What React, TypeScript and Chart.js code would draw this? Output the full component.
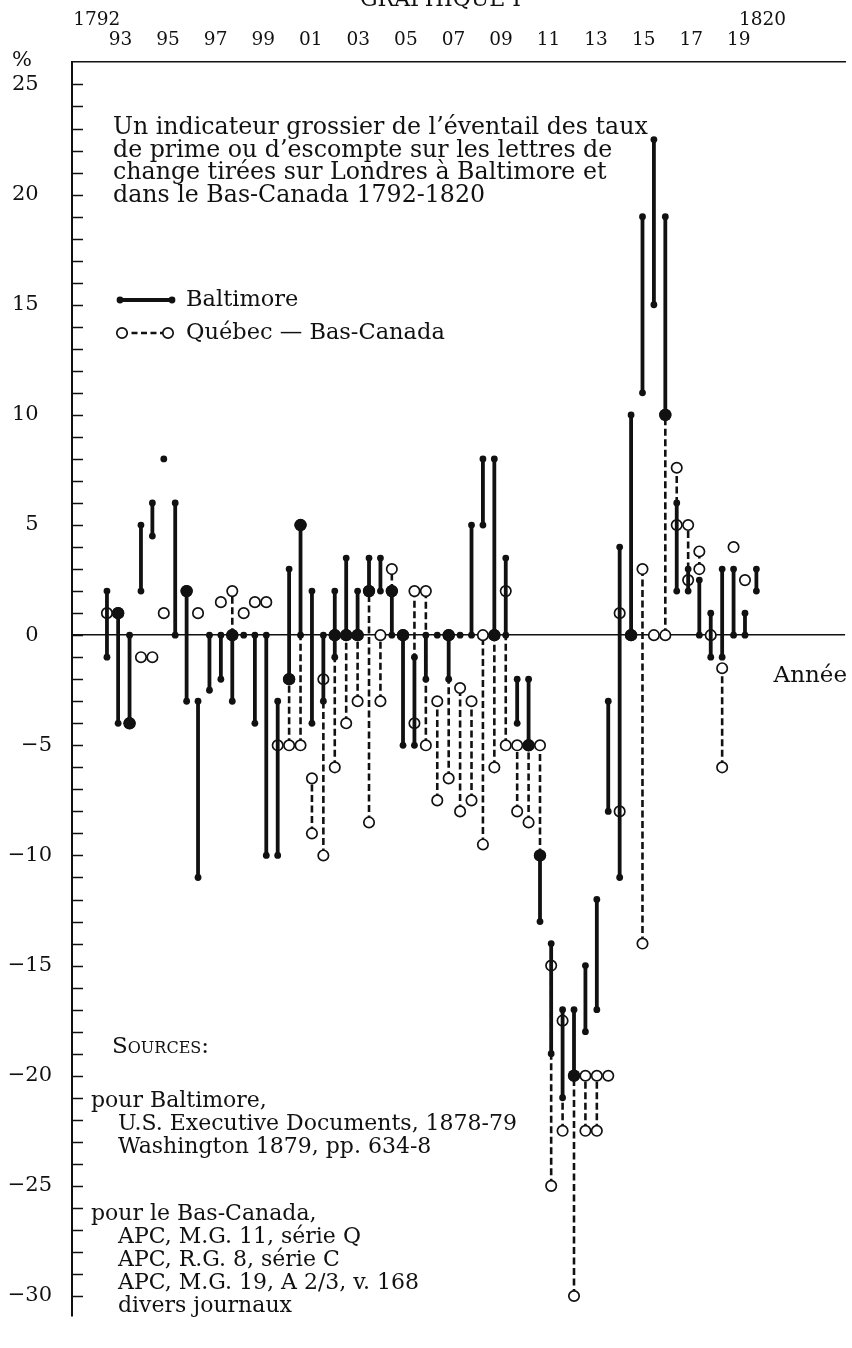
import React, { useEffect, useRef } from 'react';
import { Chart, registerables } from 'chart.js';

Chart.register(...registerables);

const OBS_YEARS = [
  1792.43, 1792.90, 1793.38, 1793.86, 1794.34, 1794.82, 1795.30, 1795.78, 1796.26, 1796.74,
  1797.22, 1797.70, 1798.18, 1798.65, 1799.13, 1799.61, 1800.09, 1800.57, 1801.05, 1801.53,
  1802.01, 1802.49, 1802.97, 1803.45, 1803.93, 1804.41, 1804.88, 1805.36, 1805.84, 1806.32,
  1806.80, 1807.28, 1807.76, 1808.24, 1808.72, 1809.20, 1809.68, 1810.16, 1810.64, 1811.11,
  1811.59, 1812.07, 1812.55, 1813.03, 1813.51, 1813.99, 1814.47, 1814.95, 1815.43, 1815.91,
  1816.39, 1816.87, 1817.34, 1817.82, 1818.30, 1818.78, 1819.26, 1819.74,
];

// Baltimore: low / high of the range (%)
const BALT_LOW = [
  -1, -4, -4, 2, 4.5, 8, 0, -3, -11, -2.5,
  -2, -3, 0, -4, -10, -10, -2, 0, -4, -3,
  -1, 0, 0, 2, 2, 0, -5, -5, -2, 0,
  -2, 0, 0, 5, 0, 0, -4, -5, -13, -19,
  -21, -20, -18, -17, -8, -11, 0, 11, 15, 10,
  2, 2, 0, -1, -1, 0, 0, 2,
];
const BALT_HIGH = [
  2, 1, 0, 5, 6, 8, 6, 2, -3, 0,
  0, 0, 0, 0, 0, -3, 3, 5, 2, 0,
  2, 3.5, 2, 3.5, 3.5, 2, 0, -1, 0, 0,
  0, 0, 5, 8, 8, 3.5, -2, -2, -10, -14,
  -17, -17, -15, -12, -3, 4, 10, 19, 22.5, 19,
  6, 3, 2.5, 1, 3, 3, 1, 3,
];

// Québec — Bas-Canada: low / high of the range (%)
const QC_LOW = [
  1, 1, -4, -1, -1, 1, null, 2, 1, null,
  1.5, 0, 1, 1.5, 1.5, -5, -5, -5, -9, -10,
  -6, -4, -3, -8.5, -3, 2, 0, -4, -5, -7.5,
  -6.5, -8, -7.5, -9.5, -6, -5, -8, -8.5, -10, -25,
  -22.5, -30, -22.5, -22.5, -20, -8, 0, -14, 0, 0,
  5, 2.5, 3, 0, -6, 4, 2.5, null,
];
const QC_HIGH = [
  1, 1, -4, -1, -1, 1, null, 2, 1, null,
  1.5, 2, 1, 1.5, 1.5, -5, -2, 5, -6.5, -2,
  0, 0, 0, 2, 0, 3, 0, 2, 2, -3,
  0, -2.4, -3, 0, 0, 2, -5, -5, -5, -15,
  -17.5, -20, -20, -20, -20, 1, 0, 3, 0, 10,
  7.6, 5, 3.8, 0, -1.5, 4, 2.5, null,
];

// Values where both sources coincide (large filled dots)
const BOTH = [
  null, 1, -4, null, null, null, null, 2, null, null,
  null, 0, null, null, null, null, -2, 5, null, null,
  0, 0, 0, 2, null, 2, 0, null, null, null,
  0, null, null, null, 0, null, null, -5, -10, null,
  null, -20, null, null, null, null, 0, null, null, 10,
  null, null, null, null, null, null, null, null,
];

const TOP_TICK_YEARS = [1793, 1795, 1797, 1799, 1801, 1803, 1805, 1807, 1809, 1811, 1813, 1815, 1817, 1819];
const TOP_TICK_LABELS = ['93', '95', '97', '99', '01', '03', '05', '07', '09', '11', '13', '15', '17', '19'];
const END_TICK_YEARS = [1792, 1820];
const END_TICK_LABELS = ['1792', '1820'];
const Y_TICK_VALUES = [-30, -25, -20, -15, -10, -5, 0, 5, 10, 15, 20, 25];
const Y_TICK_LABELS = ['\u221230', '\u221225', '\u221220', '\u221215', '\u221210', '\u22125', '0\u2007', '5\u2007', '10\u2007', '15\u2007', '20\u2007', '25\u2007'];
const Y_MINOR_FROM = -30;
const Y_MINOR_TO = 25;

const X_MIN = 1790.96;
const X_MAX = 1823.47;
const Y_MIN = -30.88;
const Y_MAX = 26.02;

const FONT = "'DejaVu Serif', 'Liberation Serif', serif";
const INK = '#111';

function buildRanges(lo: (number | null)[], hi: (number | null)[]) {
  const pts: { x: number; y: number | null }[] = [];
  OBS_YEARS.forEach((x, i) => {
    const a = lo[i];
    const b = hi[i];
    if (a == null || b == null) return;
    pts.push({ x, y: a });
    if (b !== a) pts.push({ x, y: b });
    pts.push({ x, y: null });
  });
  return pts;
}

function buildPoints(vals: (number | null)[]) {
  const pts: { x: number; y: number }[] = [];
  OBS_YEARS.forEach((x, i) => {
    const v = vals[i];
    if (v != null) pts.push({ x, y: v });
  });
  return pts;
}

const decorPlugin = {
  id: 'decor',
  beforeDatasetsDraw(chart: any) {
    const { ctx, chartArea, scales } = chart;
    ctx.save();
    ctx.strokeStyle = INK;
    ctx.lineWidth = 1.6;
    ctx.beginPath();
    for (let v = Y_MINOR_FROM; v <= Y_MINOR_TO; v++) {
      const y = Math.round(scales.y.getPixelForValue(v)) + 0.5;
      ctx.moveTo(chartArea.left, y);
      ctx.lineTo(chartArea.left + 11, y);
    }
    ctx.stroke();
    ctx.restore();
  },
  afterDraw(chart: any) {
    const { ctx } = chart;
    ctx.save();
    // Baltimore legend sample
    ctx.strokeStyle = INK;
    ctx.fillStyle = INK;
    ctx.lineWidth = 3.8;
    ctx.beginPath();
    ctx.moveTo(120, 300);
    ctx.lineTo(172, 300);
    ctx.stroke();
    [120, 172].forEach((x) => {
      ctx.beginPath();
      ctx.arc(x, 300, 3.4, 0, Math.PI * 2);
      ctx.fill();
    });
    // Québec legend sample
    ctx.lineWidth = 2.4;
    ctx.setLineDash([6, 3.5]);
    ctx.beginPath();
    ctx.moveTo(122, 333);
    ctx.lineTo(168, 333);
    ctx.stroke();
    ctx.setLineDash([]);
    ctx.lineWidth = 1.7;
    [122, 168].forEach((x) => {
      ctx.beginPath();
      ctx.arc(x, 333, 5.2, 0, Math.PI * 2);
      ctx.fillStyle = '#fff';
      ctx.fill();
      ctx.stroke();
    });
    ctx.restore();
  },
};

function Txt(props: { x?: number; right?: number; base: number; size?: number; children: any; style?: any }) {
  const size = props.size ?? 22;
  const st: any = {
    position: 'absolute',
    top: props.base - 0.846 * size,
    fontSize: size,
    lineHeight: `${size}px`,
    whiteSpace: 'nowrap',
    ...props.style,
  };
  if (props.right != null) st.right = 852 - props.right;
  else st.left = props.x;
  return <div style={st}>{props.children}</div>;
}

export default function App() {
  const canvasRef = useRef<HTMLCanvasElement | null>(null);

  useEffect(() => {
    document.body.style.margin = '0';
    document.body.style.overflow = 'hidden';
    const canvas = canvasRef.current;
    if (!canvas) return;
    const chart = new Chart(canvas, {
      type: 'line',
      data: {
        datasets: [
          {
            label: 'Québec — Bas-Canada',
            data: buildRanges(QC_LOW, QC_HIGH),
            borderColor: INK,
            borderWidth: 2.6,
            borderDash: [7, 3.5],
            pointRadius: 5.2,
            pointBackgroundColor: '#fff',
            pointBorderColor: INK,
            pointBorderWidth: 1.7,
            spanGaps: false,
            fill: false,
            tension: 0,
            order: 3,
          } as any,
          {
            label: 'Baltimore',
            data: buildRanges(BALT_LOW, BALT_HIGH),
            borderColor: INK,
            borderWidth: 3.8,
            pointRadius: 3.4,
            pointBackgroundColor: INK,
            pointBorderWidth: 0,
            spanGaps: false,
            fill: false,
            tension: 0,
            order: 2,
          } as any,
          {
            label: 'Coïncidence',
            data: buildPoints(BOTH),
            showLine: false,
            pointRadius: 6.2,
            pointBackgroundColor: INK,
            pointBorderWidth: 0,
            order: 1,
          } as any,
        ],
      },
      options: {
        responsive: false,
        maintainAspectRatio: false,
        animation: false,
        events: [],
        layout: { padding: 0 },
        plugins: {
          legend: { display: false },
          tooltip: { enabled: false },
          title: { display: false },
        },
        scales: {
          x: {
            type: 'linear',
            position: 'top',
            min: X_MIN,
            max: X_MAX,
            weight: 0,
            afterFit: (s: any) => {
              s.height = 32;
            },
            afterBuildTicks: (s: any) => {
              s.ticks = TOP_TICK_YEARS.map((v) => ({ value: v }));
            },
            ticks: {
              autoSkip: false,
              maxRotation: 0,
              minRotation: 0,
              padding: 12.5,
              color: INK,
              font: { family: FONT, size: 18.5, lineHeight: 1 },
              callback: (v: any) => {
                const i = TOP_TICK_YEARS.indexOf(Number(v));
                return i >= 0 ? TOP_TICK_LABELS[i] : '';
              },
            },
            grid: { display: false, drawTicks: false },
            border: { display: true, color: INK, width: 1.6 },
          },
          x2: {
            type: 'linear',
            axis: 'x',
            position: 'top',
            min: X_MIN,
            max: X_MAX,
            weight: 10,
            afterFit: (s: any) => {
              s.height = 30;
            },
            afterBuildTicks: (s: any) => {
              s.ticks = END_TICK_YEARS.map((v) => ({ value: v }));
            },
            ticks: {
              autoSkip: false,
              maxRotation: 0,
              minRotation: 0,
              padding: 1,
              color: INK,
              font: { family: FONT, size: 18.5, lineHeight: 1 },
              callback: (v: any) => {
                const i = END_TICK_YEARS.indexOf(Number(v));
                return i >= 0 ? END_TICK_LABELS[i] : '';
              },
            },
            grid: { display: false, drawTicks: false },
            border: { display: false },
          },
          y: {
            type: 'linear',
            position: 'left',
            min: Y_MIN,
            max: Y_MAX,
            afterFit: (s: any) => {
              s.width = 72;
            },
            afterBuildTicks: (s: any) => {
              s.ticks = Y_TICK_VALUES.map((v) => ({ value: v }));
            },
            ticks: {
              autoSkip: false,
              padding: 20,
              color: INK,
              font: { family: FONT, size: 21 },
              callback: (v: any) => {
                const i = Y_TICK_VALUES.indexOf(Number(v));
                return i >= 0 ? Y_TICK_LABELS[i] : '';
              },
            },
            grid: {
              drawTicks: false,
              lineWidth: 1.5,
              color: (c: any) => (c.tick && c.tick.value === 0 ? INK : 'rgba(0,0,0,0)'),
            },
            border: { display: true, color: INK, width: 2 },
          },
        },
      } as any,
      plugins: [decorPlugin],
    });
    return () => chart.destroy();
  }, []);

  return (
    <div style={{ position: 'relative', width: 852, height: 1348, overflow: 'hidden', fontFamily: FONT, color: INK, background: '#fff' }}>
      <canvas ref={canvasRef} width={852} height={1348} style={{ display: 'block', position: 'absolute', left: 0, top: 0 }} />
      <Txt x={360} base={7} size={22}>GRAPHIQUE I</Txt>
      <Txt x={12} base={67} size={21}>%</Txt>

      <Txt x={113} base={135} size={23.7}>Un indicateur grossier de l’éventail des taux</Txt>
      <Txt x={113} base={157.7} size={23.7}>de prime ou d’escompte sur les lettres de</Txt>
      <Txt x={113} base={180.4} size={23.7}>change tirées sur Londres à Baltimore et</Txt>
      <Txt x={113} base={203.1} size={23.7}>dans le Bas-Canada 1792-1820</Txt>

      <Txt x={186} base={306} size={22.5}>Baltimore</Txt>
      <Txt x={186} base={339} size={22.5}>Québec — Bas-Canada</Txt>

      <Txt right={847} base={682} size={23}>Année</Txt>

      <Txt x={112} base={1053} size={23} style={{ fontVariant: 'small-caps' }}>Sources:</Txt>
      <Txt x={91} base={1108} size={22}>pour Baltimore,</Txt>
      <Txt x={118} base={1131} size={22}>U.S. Executive Documents, 1878-79</Txt>
      <Txt x={118} base={1154} size={22}>Washington 1879, pp. 634-8</Txt>
      <Txt x={91} base={1221} size={22}>pour le Bas-Canada,</Txt>
      <Txt x={118} base={1244} size={22}>APC, M.G. 11, série Q</Txt>
      <Txt x={118} base={1267} size={22}>APC, R.G. 8, série C</Txt>
      <Txt x={118} base={1290} size={22}>APC, M.G. 19, A 2/3, v. 168</Txt>
      <Txt x={118} base={1313} size={22}>divers journaux</Txt>
    </div>
  );
}
